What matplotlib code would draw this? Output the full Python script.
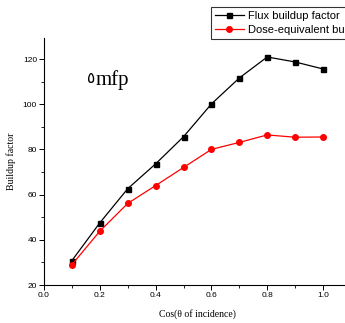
import matplotlib.pyplot as plt
from matplotlib.ticker import MultipleLocator

cos_theta = [0.1, 0.2, 0.3, 0.4, 0.5, 0.6, 0.7, 0.8, 0.9, 1.0]
flux = [30.8, 47.5, 62.6, 73.6, 85.6, 100.1, 111.6, 120.9, 118.7, 115.6]
dose = [29.0, 43.8, 56.1, 64.0, 72.0, 80.0, 83.1, 86.4, 85.4, 85.5]

fig = plt.figure(figsize=(3.45, 3.23), dpi=100)
ax = fig.add_axes([44 / 345, 1 - 285 / 323, 1.1 * 279 / 345, 247 / 323])

l1, = ax.plot(cos_theta, flux, color='black', lw=0.9, marker='s', ms=3.6,
              label='Flux buildup factor')
l2, = ax.plot(cos_theta, dose, color='red', lw=0.9, marker='o', ms=4.0,
              label='Dose-equivalent buildup factor')

ax.set_xlim(0, 1.1)
ax.set_ylim(20, 129.3)
ax.xaxis.set_major_locator(MultipleLocator(0.2))
ax.xaxis.set_minor_locator(MultipleLocator(0.1))
ax.yaxis.set_major_locator(MultipleLocator(20))
ax.yaxis.set_minor_locator(MultipleLocator(10))
ax.set_xticks([0.0, 0.2, 0.4, 0.6, 0.8, 1.0])
ax.set_xticklabels(['0.0', '0.2', '0.4', '0.6', '0.8', '1.0'])
ax.spines['top'].set_visible(False)
ax.spines['right'].set_visible(False)
ax.tick_params(which='major', direction='out', length=3.5, width=0.7,
               labelsize=6, pad=1.5)
ax.tick_params(which='minor', direction='out', length=2, width=0.6)
for lab in ax.get_xticklabels() + ax.get_yticklabels():
    lab.set_family('Liberation Sans')

ax.set_xlabel('Cos(θ of incidence)', family='Liberation Serif', fontsize=7, labelpad=7)
ax.set_ylabel('Buildup factor', family='Liberation Serif', fontsize=7, labelpad=5)

# arabic five, then "mfp"
ax.text(0.183, 109.2, '٥', family='DejaVu Sans', fontsize=11,
        ha='right', va='baseline')
ax.text(0.186, 108.5, 'mfp', family='Liberation Serif', fontsize=15,
        ha='left', va='baseline')

leg = fig.legend(handles=[l1, l2], loc='upper left',
                 bbox_to_anchor=(211 / 345, 1 - 7 / 323),
                 prop={'family': 'Liberation Sans', 'size': 8},
                 frameon=True, fancybox=False, edgecolor='black',
                 borderpad=0.35, labelspacing=0.4, handlelength=2.6,
                 handletextpad=0.4, borderaxespad=0)
leg.get_frame().set_linewidth(0.8)

fig.savefig('out.png', dpi=100)
